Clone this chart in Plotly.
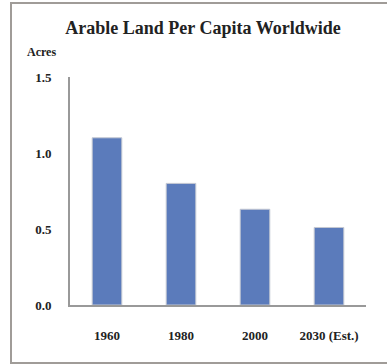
import plotly.graph_objects as go

categories = ["1960", "1980", "2000", "2030 (Est.)"]
acres = [1.1, 0.8, 0.63, 0.51]
ytick_vals = [0.0, 0.5, 1.0, 1.5]
ytick_text = ["0.0", "0.5", "1.0", "1.5"]

FONT = "Liberation Serif"
L, R, T, B = 70, 21, 77, 59
W, H = 387, 364
pw, ph = W - L - R, H - T - B

def px(x):
    return (x - L) / pw

def py(y):
    return (H - B - y) / ph

fig = go.Figure()
fig.add_trace(go.Bar(
    x=categories, y=acres, width=0.4,
    marker=dict(color="#5b7bbb", line=dict(color="#c4c8d2", width=1)),
))

fig.update_layout(
    width=W, height=H,
    margin=dict(l=L, r=R, t=T, b=B, pad=0),
    paper_bgcolor="white", plot_bgcolor="white",
    showlegend=False,
    font=dict(family=FONT, color="#222222"),
    title=dict(text="Arable Land Per Capita Worldwide",
               x=203 / W, xanchor="center", y=1 - 28 / H, yanchor="middle",
               font=dict(size=18, family=FONT, color="#222222", weight="bold")),
    xaxis=dict(showline=True, linecolor="#999999", linewidth=2,
               showgrid=False, ticks="", ticklabelstandoff=17,
               tickfont=dict(size=13, family=FONT, color="#222222", weight="bold")),
    yaxis=dict(range=[0, 1.5], showline=True, linecolor="#999999", linewidth=2,
               showgrid=False, zeroline=False, ticks="",
               tickvals=ytick_vals, ticktext=ytick_text, ticklabelstandoff=14,
               tickfont=dict(size=13, family=FONT, color="#222222", weight="bold")),
    annotations=[dict(text="Acres", xref="paper", yref="paper",
                      x=px(41), y=py(52), xanchor="center", yanchor="middle",
                      showarrow=False,
                      font=dict(size=12, family=FONT, color="#222222", weight="bold"))],
    shapes=[dict(type="rect", xref="paper", yref="paper",
                 x0=px(11), x1=px(400), y0=py(363), y1=py(3),
                 line=dict(color="#a09c98", width=2), fillcolor="rgba(0,0,0,0)", layer="below")],
)

fig.write_html("out.html")
